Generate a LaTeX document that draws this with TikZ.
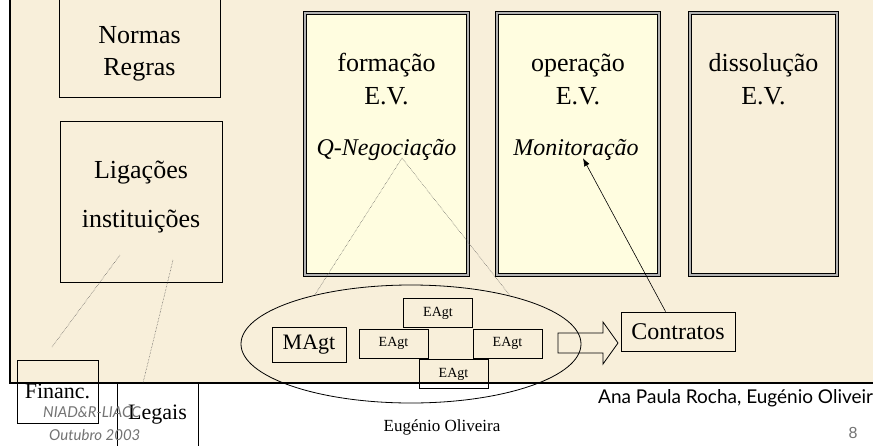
\documentclass[tikz,border=0pt]{standalone}
\usepackage{fontspec}
\setmainfont{Liberation Serif}
\newfontfamily\comicfont{Lato}
\newfontfamily\arialfont{Liberation Sans}
\usetikzlibrary{positioning,arrows.meta,shapes.geometric,calc}
\definecolor{parchment}{RGB}{248,239,218}
\definecolor{evyellow}{RGB}{255,253,224}
\tikzset{%
  rbox/.style   = { draw = black, line width = 0.8pt, inner sep = 0pt, align = center },
  evbox/.style  = { draw = black, line width = 0.9pt, double = black!30, double distance = 1.4pt,
                    fill = #1, minimum height = 262pt, inner sep = 0pt },
  agt/.style    = { rbox, minimum width = 69pt, minimum height = 29pt,
                    font = \fontsize{14}{16}\selectfont },
  big/.style    = { anchor = base, inner sep = 1pt, font = \fontsize{26}{30}\selectfont },
  ital/.style   = { anchor = base, inner sep = 1pt, font = \itshape\fontsize{24}{28}\selectfont },
  link/.style   = { densely dotted, line width = 0.5pt, draw = black!70 },
  foot/.style   = { anchor = west, inner sep = 0pt, text = black!55,
                    font = \comicfont\itshape\fontsize{15}{17}\selectfont }
}

\begin{document}
\begin{tikzpicture}[x=1pt,y=-1pt]
\useasboundingbox (0,0) rectangle (873,445);
\fill[white] (0,0) rectangle (873,445);
\fill[parchment] (10,0) rectangle (873,383);

% normas e ligacoes
\node(normas)   [rbox, minimum width=161pt, minimum height=100pt] at (139.5,47) {};
\node(normast)  [big] at (139.5,43) {Normas};
\node(regrast)  [big] at (139.5,75) {Regras};
\node(ligacoes) [rbox, minimum width=162pt, minimum height=161pt] at (141,201.5) {};
\node(ligt)     [big] at (141,178) {Ligações};
\node(instt)    [big] at (141,227) {instituições};

% fases da E.V.
\node(formacao) [evbox=evyellow, minimum width=163pt] at (386.5,144) {};
\node(operacao) [evbox=evyellow, minimum width=162pt] at (578,144) {};
\node(dissol)   [evbox=parchment, minimum width=147pt] at (763.5,144) {};
\node(formt)    [big] at (386.5,71) {formação};
\node(formev)   [big] at (386.5,104) {E.V.};
\node(opert)    [big] at (578,71) {operação};
\node(operev)   [big] at (578,104) {E.V.};
\node(dissolt)  [big] at (763.5,71) {dissolução};
\node(dissolev) [big] at (763.5,104) {E.V.};
\node(qneg)     [ital] at (386.5,155) {Q-Negociação};
\node(monit)    [ital] at (576,155) {Monitoração};

% agentes
\node(grupo) [draw, ellipse, line width=0.8pt, minimum width=340pt, minimum height=118pt,
              inner sep=0pt] at (411,344) {};
\node(magt)  [rbox, minimum width=74pt, minimum height=35pt,
              font=\fontsize{22}{24}\selectfont] at (309,344.5) {MAgt};
\node(eagtn) [agt] at (438,313) {EAgt};
\node(eagtw) [agt] at (393.5,343.5) {EAgt};
\node(eagte) [agt] at (507.5,343.5) {EAgt};
\node(eagts) [agt] at (453.5,374) {EAgt};

\node(contratos) [rbox, minimum width=114pt, minimum height=39pt,
                  font=\fontsize{24}{28}\selectfont] at (678,331.5) {Contratos};
\draw[line width=0.8pt] (558,333) -- (603,333) -- (603,322) -- (618,343)
      -- (603,364) -- (603,353) -- (558,353) -- cycle;

\coordinate (qtip) at (402,158);
\draw[link] (qtip) -- (grupo.153);
\draw[link] (qtip) -- (grupo.26);
\draw[-{Latex[length=8pt,width=6pt]}, line width=0.6pt] (contratos.122) -- ($(monit.south)+(7,-3)$);

% financ. e legais
\draw[line width=2.2pt] (10,-2) -- (10,383) -- (875,383);
\node(financ) [rbox, minimum width=81pt, minimum height=63pt,
               font=\fontsize{22}{24}\selectfont] at (57.5,391.5) {Financ.};
\node(legais) [rbox, minimum width=81pt, minimum height=64pt,
               font=\fontsize{22}{24}\selectfont] at (157.5,415) {Legais};
\coordinate (ligf) at (120,255);
\coordinate (finf) at (52,347);
\coordinate (ligl) at (173,260);
\coordinate (legl) at (143,383);
\draw[link] (ligf) -- (finf);
\draw[link] (ligl) -- (legl);

% rodape
\node(niad)    [foot] at (43,412) {NIAD\&R-LIACC};
\node(outubro) [foot] at (49,435) {Outubro 2003};
\node(autores) [anchor=west, inner sep=0pt, font=\comicfont\fontsize{19}{22}\selectfont]
               at (598,398) {Ana Paula Rocha, Eugénio Oliveir};
\node(eugenio) [inner sep=0pt, font=\fontsize{17}{20}\selectfont] at (442,427) {Eugénio Oliveira};
\node(pagina)  [inner sep=0pt, text=black!55, font=\arialfont\fontsize{16}{18}\selectfont]
               at (853,433) {8};
\end{tikzpicture}
\end{document}
